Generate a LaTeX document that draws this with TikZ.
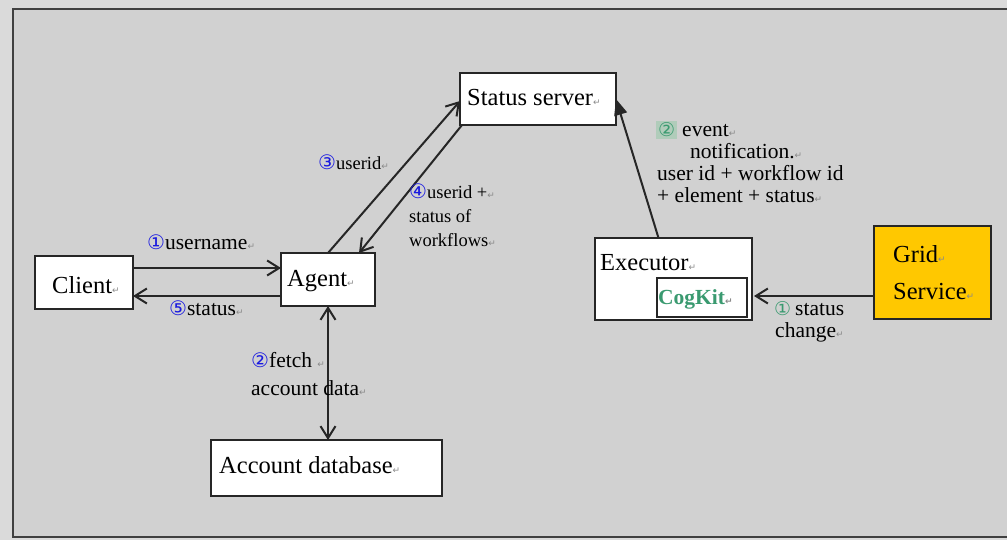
\documentclass[tikz,border=0pt]{standalone}
\usepackage{fontspec}
\setmainfont{Liberation Serif}
\newfontfamily\dejavu{DejaVu Sans}
\usetikzlibrary{arrows.meta}
\definecolor{bgin}{HTML}{D1D1D1}
\definecolor{bgout}{HTML}{DADADA}
\definecolor{numblue}{HTML}{1A1AE0}
\definecolor{numgreen}{HTML}{3A9A70}
\definecolor{hlgreen}{HTML}{B0CCBA}
\definecolor{gold}{HTML}{FFC800}
\definecolor{retgray}{HTML}{8A8A8A}
\newcommand\retmark{{\dejavu\fontsize{9}{9}\selectfont\color{retgray}↵}}
\newcommand\bnum[1]{{\dejavu\fontsize{20}{20}\selectfont\color{numblue}#1}}
\newcommand\gnum[1]{{\dejavu\fontsize{19}{19}\selectfont\color{numgreen}#1}}
\tikzset{
  box/.style={draw=black!85, fill=white, line width=1.1pt, inner sep=0pt, outer sep=0pt, anchor=north west},
  boxtxt/.style={anchor=base west, inner sep=0pt, font=\fontsize{24.5}{28}\selectfont},
  lbl/.style={anchor=base west, inner sep=0pt, font=\fontsize{21.5}{22}\selectfont},
  slbl/.style={anchor=base west, inner sep=0pt, font=\fontsize{18.5}{22}\selectfont},
  conn/.style={line width=2pt, draw=black!85},
  barb/.style={conn, -{Straight Barb[length=12pt,width=15pt,line width=2pt]}},
  dbarb/.style={conn, {Straight Barb[length=12pt,width=15pt,line width=2pt]}-{Straight Barb[length=12pt,width=15pt,line width=2pt]}},
  tri/.style={conn, -{Triangle[length=16pt,width=13pt]}},
}
\begin{document}
\begin{tikzpicture}[x=1pt,y=-1pt]
\useasboundingbox (0,0) rectangle (1007,540);
\fill[bgout] (0,0) rectangle (1007,540);
\draw[fill=bgin, draw=black!75, line width=1.3pt] (13,9) rectangle (1012,537);

% boxes
\node[box, minimum width=98pt, minimum height=53pt] (client) at (35,256) {};
\node[box, minimum width=94pt, minimum height=53pt] (agent) at (281,253) {};
\node[box, minimum width=156pt, minimum height=52pt] (ssrv) at (460,73) {};
\node[box, minimum width=231pt, minimum height=56pt] (acct) at (211,440) {};
\node[box, minimum width=157pt, minimum height=82pt] (exec) at (595,238) {};
\node[box, minimum width=90pt, minimum height=39pt] (cogkit) at (657,278) {};
\node[box, fill=gold, minimum width=117pt, minimum height=93pt] (grid) at (874,226) {};

% box texts
\node[boxtxt] (tclient) at (52,293) {Client\retmark};
\node[boxtxt] (tagent) at (287,287) {Agent\retmark};
\node[boxtxt] (tssrv) at (467,106) {Status server\retmark};
\node[boxtxt] (tacct) at (219,473) {Account database\retmark};
\node[boxtxt] (texec) at (600,270) {Executor\retmark};
\node[anchor=base west, inner sep=0pt, font=\fontsize{21.5}{24}\selectfont\bfseries, text=numgreen] (tcog) at (658,305) {CogKit\retmark};
\node[boxtxt] (tgrid1) at (893,262) {Grid\retmark};
\node[boxtxt] (tgrid2) at (893,299) {Service\retmark};

% connectors
\draw[barb] (client.east |- 0,268) -- (agent.west |- 0,268);
\draw[barb] (agent.west |- 0,296) -- (client.east |- 0,296);
\draw[barb] (agent.north) -- ([yshift=-2pt]ssrv.west);
\draw[barb] ([xshift=2pt]ssrv.south west) -- ([xshift=31pt]agent.north);
\draw[dbarb] (agent.south) -- (agent.south |- acct.north);
\draw[tri] ([xshift=-15pt]exec.north) -- (ssrv.east);
\draw[barb] (grid.west |- 0,296) -- ([xshift=2pt]exec.east |- 0,296);

% labels
\node[lbl] (l1) at (147,250) {\bnum{①}username\retmark};
\node[lbl] (l5) at (169,315) {\bnum{⑤}status\retmark};
\node[slbl] (l3) at (318,170) {\bnum{③}userid\retmark};
\node[slbl] (l4a) at (409,199) {\bnum{④}userid +\retmark};
\node[slbl] (l4b) at (409,223) {status of};
\node[slbl] (l4c) at (409,247) {workflows\retmark};
\node[lbl] (l2a) at (251,367) {\bnum{②}fetch \retmark};
\node[lbl] (l2b) at (251,395) {account data\retmark};
\node[lbl] (r2a) at (656,137) {\fboxsep=2pt\colorbox{hlgreen}{\gnum{②}}\hspace{5pt}event\retmark};
\node[lbl] (r2b) at (690,159) {notification.\retmark};
\node[lbl] (r2c) at (657,181) {user id + workflow id};
\node[lbl] (r2d) at (657,203) {+ element + status\retmark};
\node[lbl] (r1a) at (774,315) {\gnum{①}\hspace{4pt}status};
\node[lbl] (r1b) at (775,337) {change\retmark};
\end{tikzpicture}
\end{document}
